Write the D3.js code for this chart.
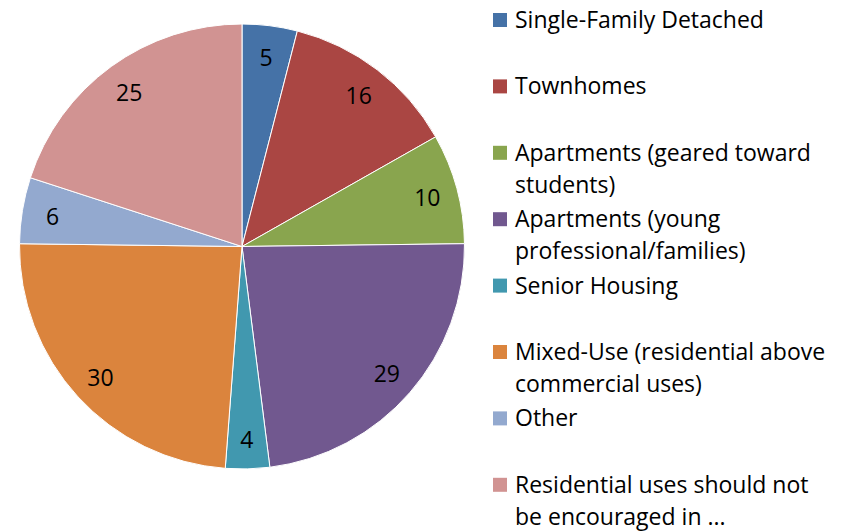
<!DOCTYPE html>
<html>
<head>
<meta charset="utf-8">
<script src="https://cdn.jsdelivr.net/npm/d3@7"></script>
<style>
  body { margin: 0; background: #fff; }
  text { font-family: "Open Sans", Lato, sans-serif; fill: #000; }
</style>
</head>
<body>
<svg id="chart" width="854" height="532"></svg>
<script>
var categories = [
    ['Single-Family Detached'],
    ['Townhomes'],
    ['Apartments (geared toward', 'students)'],
    ['Apartments (young', 'professional/families)'],
    ['Senior Housing'],
    ['Mixed-Use (residential above', 'commercial uses)'],
    ['Other'],
    ['Residential uses should not', 'be encouraged in ...']
];
var values = [5, 16, 10, 29, 4, 30, 6, 25];
var colors = ['#4572A7', '#AA4643', '#89A54E', '#71588F', '#4198AF', '#DB843D', '#93A9CF', '#D19392'];

var cx = 242,
    cy = 246.5,
    radius = 222.5,
    labelRadius = 192,
    fontSize = 23;

var svg = d3.select('#chart');

var pie = d3.pie().sort(null).value(function(d) { return d; });
var arc = d3.arc().innerRadius(0).outerRadius(radius);
var labelArc = d3.arc().innerRadius(labelRadius).outerRadius(labelRadius);
var color = d3.scaleOrdinal().domain(d3.range(values.length)).range(colors);

var g = svg.append('g').attr('transform', 'translate(' + cx + ',' + cy + ')');

var slices = g.selectAll('g.slice')
    .data(pie(values))
    .enter().append('g')
    .attr('class', 'slice');

slices.append('path')
    .attr('d', arc)
    .attr('fill', function(d, i) { return color(i); })
    .attr('stroke', '#fff')
    .attr('stroke-width', 1);

slices.append('text')
    .attr('transform', function(d) { return 'translate(' + labelArc.centroid(d) + ')'; })
    .attr('text-anchor', 'middle')
    .attr('dy', '0.43em')
    .style('font-size', fontSize + 'px')
    .text(function(d) { return d.data; });

// legend
var legendX = 493,
    legendTop = 28,
    slot = 66.4,
    lineH = 32;

var legend = svg.append('g');
var item = legend.selectAll('g.item')
    .data(categories)
    .enter().append('g')
    .attr('class', 'item')
    .attr('transform', function(d, i) { return 'translate(' + legendX + ',' + (legendTop + i * slot) + ')'; });

item.append('rect')
    .attr('x', 0)
    .attr('y', -15)
    .attr('width', 14)
    .attr('height', 14)
    .attr('fill', function(d, i) { return color(i); });

item.append('text')
    .attr('x', 22)
    .style('font-size', fontSize + 'px')
    .selectAll('tspan')
    .data(function(d) { return d; })
    .enter().append('tspan')
    .attr('x', 22)
    .attr('y', function(d, j) { return j * lineH; })
    .text(function(d) { return d; });
</script>
</body>
</html>
